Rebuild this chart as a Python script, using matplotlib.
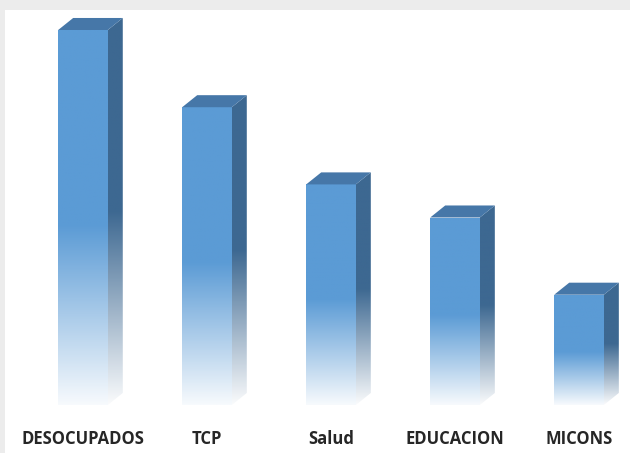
import numpy as np
import matplotlib
matplotlib.use("Agg")
import matplotlib.pyplot as plt
from matplotlib.patches import Polygon, Rectangle
from matplotlib.colors import LinearSegmentedColormap

# Data
categories = ["DESOCUPADOS", "TCP", "Salud", "EDUCACION", "MICONS"]
values = [34, 27, 20, 17, 10]

# 3D look parameters
width = 0.40
dx = 0.121
dy = 1.09

front_cmap = LinearSegmentedColormap.from_list(
    "front", [(0.0, "#f7fafd"), (0.48, "#5b9bd5"), (1.0, "#5b9bd5")])
side_cmap = LinearSegmentedColormap.from_list(
    "side", [(0.0, "#fafbfc"), (0.5, "#3d6891"), (1.0, "#3d6891")])
top_color = "#4677a8"

fig = plt.figure(figsize=(6.3, 4.53), dpi=100)
fig.patch.set_facecolor("white")

# light gray frame at top and left
fig.patches.append(Rectangle((0, 1 - 10 / 453), 1, 10 / 453, transform=fig.transFigure,
                             facecolor="#ececec", edgecolor="none", zorder=0))
fig.patches.append(Rectangle((0, 0), 5 / 630, 1, transform=fig.transFigure,
                             facecolor="#ececec", edgecolor="none", zorder=0))

ax = fig.add_axes([0, 48 / 453, 1, 405 / 453])
ax.set_xlim(-0.669, 4.411)
ax.set_ylim(0, 36.72)
ax.patch.set_alpha(0)

grad = np.linspace(0, 1, 256).reshape(-1, 1)
x = np.arange(len(categories))

bars = ax.bar(x, values, width, color="none", edgecolor="none")
for xi, v, b in zip(x, values, bars):
    l, r = xi - width / 2, xi + width / 2
    # front face
    im = ax.imshow(grad, cmap=front_cmap, origin="lower", aspect="auto",
                   extent=(l, r, 0, v), zorder=2)
    im.set_clip_path(b)
    # side face
    side = Polygon([(r, 0), (r + dx, dy), (r + dx, v + dy), (r, v)],
                   closed=True, facecolor="none", edgecolor="none")
    ax.add_patch(side)
    im2 = ax.imshow(grad, cmap=side_cmap, origin="lower", aspect="auto",
                    extent=(r, r + dx, 0, v + dy), zorder=2)
    im2.set_clip_path(side)
    # top face
    ax.add_patch(Polygon([(l, v), (r, v), (r + dx, v + dy), (l + dx, v + dy)],
                         closed=True, facecolor=top_color, edgecolor="none", zorder=3))

ax.set_xticks(x)
ax.set_xticklabels(categories, fontsize=12, fontweight="bold", color="#262626",
                   family=["Open Sans", "DejaVu Sans"])
ax.tick_params(axis="x", length=0, pad=18)
ax.set_yticks([])
for s in ax.spines.values():
    s.set_visible(False)

fig.savefig("out.png", dpi=100)
